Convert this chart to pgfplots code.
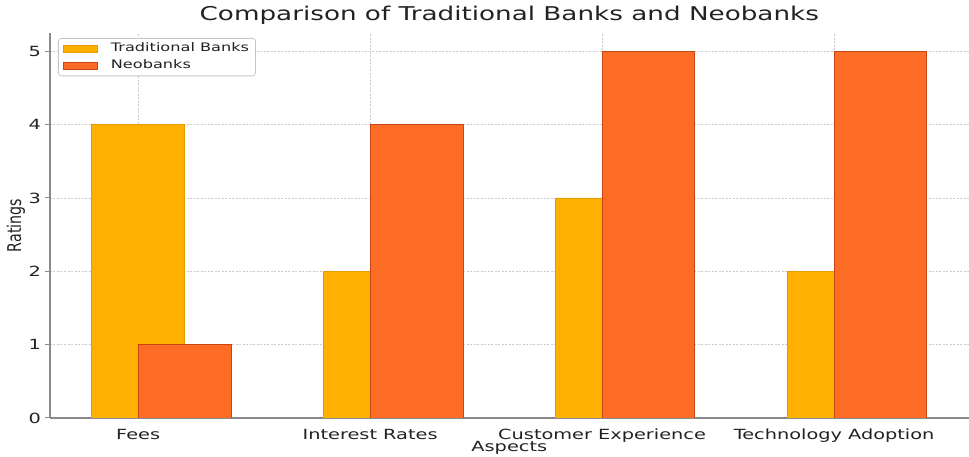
\documentclass[border=0pt]{standalone}
\usepackage{pgfplots}
\pgfplotsset{compat=1.18}
\usepackage{fontspec}
\setmainfont{DejaVu Sans}[FakeStretch=1.38]
\newfontfamily\ylabfont{DejaVu Sans}[FakeStretch=0.75]
\definecolor{trad}{HTML}{FFB000}
\definecolor{tradedge}{HTML}{E69A00}
\definecolor{neo}{HTML}{FC6C24}
\definecolor{neoedge}{HTML}{C84414}
\definecolor{axgray}{HTML}{8A8A8A}
\definecolor{txt}{HTML}{222222}
\begin{document}
\begin{tikzpicture}[x=1pt,y=1pt]
\useasboundingbox (0,0) rectangle (969,457);
\begin{axis}[
  at={(50pt,39pt)}, anchor=south west,
  scale only axis, width=918.6pt, height=385pt,
  xmin=-0.38, xmax=3.58, ymin=0, ymax=5.25,
  axis x line*=bottom, axis y line*=left,
  axis line style={axgray, line width=1.5pt, -},
  xtick={0,1,2,3},
  xticklabels={Fees,Interest Rates,Customer Experience,Technology Adoption},
  ytick={0,1,2,3,4,5},
  /pgf/number format/assume math mode=true,
  tick align=outside,
  x tick style={draw=none},
  y tick style={axgray, line width=1pt},
  major tick length=5pt,
  xmajorgrids, ymajorgrids,
  major grid style={gray!40, line width=0.8pt, dash pattern=on 2pt off 1.5pt},
  ticklabel style={text=txt, font=\fontsize{14}{16}\selectfont},
  x tick label style={anchor=base, yshift=-17pt, inner sep=0pt},
  y tick label style={anchor=east, inner sep=0pt, xshift=-4pt},
  title={Comparison of Traditional Banks and Neobanks},
  title style={at={(axis description cs:0.5,1)}, anchor=base, yshift=6pt, inner sep=0pt, text=txt, font=\fontsize{19}{22}\selectfont},
  xlabel={Aspects},
  xlabel style={at={(axis description cs:0.5,0)}, anchor=base, yshift=-34pt, inner sep=0pt, text=txt, font=\fontsize{14}{16}\selectfont},
  ylabel={Ratings},
  ylabel style={at={(axis description cs:0,0.5)}, anchor=center, yshift=34pt, inner sep=0pt, text=txt, font=\ylabfont\fontsize{19}{20}\selectfont},
  legend style={at={(axis description cs:0.0087,0.987)}, anchor=north west,
    draw=gray!45, line width=0.8pt, rounded corners=3pt, fill=white,
    font=\fontsize{11.7}{13}\selectfont, text=txt,
    nodes={inner sep=1.5pt, text height=9pt, text depth=2.5pt},
    row sep=2.5pt, inner xsep=5pt, inner ysep=3pt,
    /tikz/every even column/.append style={column sep=0pt}},
  legend cell align=left,
  legend image code/.code={\draw[#1, line width=1pt, sharp corners] (0pt,-3.5pt) rectangle (34pt,3.5pt);},
]
\addplot[ybar, bar width=0.4, bar shift=0pt, fill=trad, draw=tradedge, line width=0.8pt]
  coordinates {(0,4) (1,2) (2,3) (3,2)};
\addlegendentry{\hspace{11pt}Traditional Banks\hspace{3pt}}
\addplot[ybar, bar width=0.4, bar shift=0pt, fill=neo, draw=neoedge, line width=0.8pt]
  coordinates {(0.2,1) (1.2,4) (2.2,5) (3.2,5)};
\addlegendentry{\hspace{11pt}Neobanks}
\end{axis}
\end{tikzpicture}
\end{document}
